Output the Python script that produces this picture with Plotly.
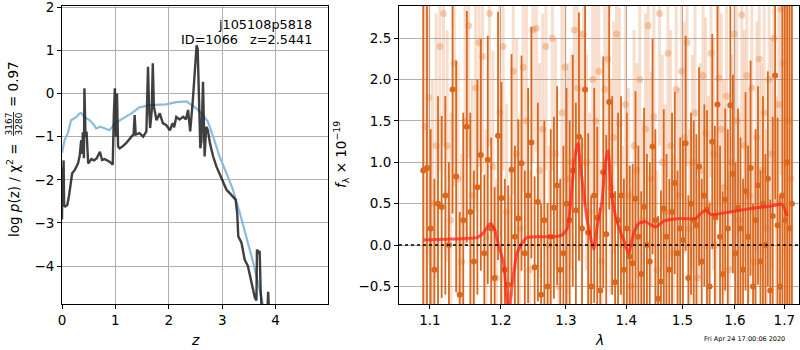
import plotly.graph_objects as go
import math

# ---------------- left panel: p(z) ----------------
pz_z = [0.0, 0.01, 0.02, 0.03, 0.04, 0.06, 0.1, 0.13, 0.19, 0.24, 0.3, 0.33, 0.36, 0.38, 0.39, 0.41,
        0.42, 0.44, 0.46, 0.49, 0.55, 0.6, 0.65, 0.71, 0.75, 0.8, 0.89, 0.95, 0.97, 0.99, 1.01, 1.03,
        1.05, 1.08, 1.14, 1.2, 1.3, 1.34, 1.36, 1.38, 1.45, 1.52, 1.58, 1.6, 1.61, 1.63, 1.65, 1.68,
        1.70, 1.72, 1.77, 1.83, 1.89, 1.95, 2.02, 2.07, 2.1, 2.14, 2.2, 2.27, 2.32, 2.36, 2.40, 2.45,
        2.48, 2.52, 2.54, 2.56, 2.59, 2.61, 2.64, 2.655, 2.67, 2.70, 2.73, 2.77, 2.83, 2.89, 2.95,
        3.02, 3.08, 3.14, 3.20, 3.25, 3.28, 3.30, 3.36, 3.42, 3.48, 3.55, 3.61, 3.64, 3.65, 3.68,
        3.70, 3.72, 3.75, 3.84, 3.86, 3.88]
pz_logp = [-2.92, -1.7, -2.3, -1.55, -2.6, -2.62, -2.58, -2.38, -1.85, -1.77, -1.62, -1.45, -1.08,
           -1.4, -0.9, -1.5, 0.12, -1.0, -0.88, -1.62, -1.52, -1.55, -1.5, -1.35, -1.54, -1.52, -1.58,
           -1.65, -0.5, 0.12, -1.0, 0.0, -1.23, -1.27, -1.22, -1.15, -1.0, -0.95, -0.5, -0.95, -0.92,
           -1.0, -0.88, -0.2, 0.62, -0.31, -0.8, -0.4, 0.7, -0.3, -0.62, -0.46, -0.69, -0.73, -0.85,
           -0.69, -0.78, -0.54, -0.6, -0.54, -0.6, -0.38, -0.88, -0.15, 0.4, 1.12, 1.04, -0.2, -1.27,
           -1.1, 0.27, -0.6, -1.46, -0.77, -0.85, -1.15, -1.46, -1.69, -1.85, -2.04, -2.23, -2.31,
           -2.38, -2.46, -2.77, -3.31, -3.46, -3.85, -4.0, -4.38, -4.73, -4.8, -3.62, -3.68, -3.65,
           -4.6, -5.2, -5.2, -4.6, -5.2]

chi_z = [0.0, 0.05, 0.11, 0.17, 0.22, 0.27, 0.33, 0.36, 0.42, 0.52, 0.58, 0.64, 0.72, 0.8, 0.89,
         0.99, 1.14, 1.3, 1.45, 1.64, 1.95, 2.14, 2.33, 2.42, 2.52, 2.64, 2.73, 2.83, 2.95, 3.08,
         3.20, 3.33, 3.45, 3.58, 3.70, 3.78]
chi_val = [-1.38, -1.08, -0.92, -0.62, -0.58, -0.54, -0.46, -0.45, -0.55, -0.62, -0.7, -0.81, -0.77,
           -0.8, -0.85, -0.69, -0.58, -0.46, -0.32, -0.27, -0.25, -0.2, -0.18, -0.27, -0.35, -0.5,
           -0.65, -1.0, -1.46, -1.85, -2.23, -2.77, -3.31, -3.92, -4.54, -5.0]

# ---------------- right panel: spectrum ----------------
dark_wave = [1.091, 1.096, 1.101, 1.106, 1.111, 1.116, 1.121, 1.126, 1.131, 1.136,
             1.141, 1.146, 1.151, 1.156, 1.161, 1.166, 1.171, 1.176, 1.181, 1.186,
             1.191, 1.196, 1.201, 1.206, 1.211, 1.216, 1.221, 1.226, 1.231, 1.236,
             1.241, 1.246, 1.251, 1.256, 1.261, 1.266, 1.271, 1.276, 1.281, 1.286,
             1.291, 1.296, 1.301, 1.306, 1.311, 1.316, 1.321, 1.326, 1.331, 1.336,
             1.341, 1.346, 1.351, 1.356, 1.361, 1.366, 1.371, 1.376, 1.381, 1.386,
             1.391, 1.396, 1.401, 1.406, 1.411, 1.416, 1.421, 1.426, 1.431, 1.436,
             1.441, 1.446, 1.451, 1.456, 1.461, 1.466, 1.471, 1.476, 1.481, 1.486,
             1.491, 1.496, 1.501, 1.506, 1.511, 1.516, 1.521, 1.526, 1.531, 1.536,
             1.541, 1.546, 1.551, 1.556, 1.561, 1.566, 1.571, 1.576, 1.581, 1.586,
             1.591, 1.596, 1.601, 1.606, 1.611, 1.616, 1.621, 1.626, 1.631, 1.636,
             1.641, 1.646, 1.651, 1.656, 1.661, 1.666, 1.671, 1.676, 1.681, 1.686,
             1.691, 1.696, 1.701, 1.706, 1.711, 1.716]
dark_flux = [0.9, 0.93, 0.2, -0.3, 0.5, 0.46, 0.6, 0.0, 1.88, 0.83,
             -0.6, 0.3, 1.43, 0.4, -0.2, 0.7, 1.09, -0.1, 1.03, 0.2,
             -0.4, 1.32, 0.57, -0.3, -0.48, 0.91, 0.1, 0.32, 0.99, -0.1,
             0.6, 1.24, -0.27, 0.52, -0.6, 0.3, -0.5, 0.1, 0.45, 0.72,
             -0.3, -0.1, 0.5, 0.3, 0.9, 0.42, 1.31, 0.2, 1.88, 0.15,
             -0.5, 0.6, 0.33, -0.55, 0.88, 0.13, 1.73, 0.6, -0.45, 0.3,
             0.6, -0.3, 0.2, -0.14, -0.22, 0.56, 0.1, -0.35, 0.46, 0.0,
             -0.2, 1.19, 0.3, -0.65, -0.44, 0.44, 0.1, -0.3, 0.4, 0.75,
             -0.1, 0.2, 0.06, 1.23, -0.4, 0.5, 0.3, 0.24, 0.95, -0.2,
             0.6, 0.43, -0.5, 1.25, 0.34, 1.7, 0.1, -0.35, 0.55, 0.2,
             1.69, 0.86, -0.1, 0.45, 0.2, -0.3, 0.65, 0.1, 0.93, -0.5,
             0.3, 0.72, -0.2, 0.5, 0.0, 0.8, -0.55, 0.35, 2.05, 0.24,
             -0.5, 0.6, 0.3, 1.0, 0.2, 0.5]
dark_err = [3.8, 3.2, 1.2, 1.1, 1.3, 1.1, 1.2, 1.0, 1.5, 1.4,
            1.0, 1.3, 1.4, 1.2, 1.1, 1.3, 1.4, 0.95, 1.5, 1.1,
            1.1, 1.5, 1.4, 1.1, 1.2, 1.4, 1.1, 1.2, 1.3, 1.0,
            1.3, 1.4, 1.1, 1.2, 1.1, 1.2, 1.0, 1.3, 1.1, 1.2,
            1.1, 1.3, 1.4, 1.2, 1.4, 1.3, 1.5, 1.1, 1.4, 1.2,
            1.1, 1.3, 1.1, 1.0, 1.4, 1.2, 1.3, 1.2, 1.1, 1.3,
            1.2, 1.1, 1.4, 1.1, 1.2, 1.3, 1.1, 1.0, 1.2, 1.1,
            1.2, 1.3, 1.1, 1.0, 1.1, 1.2, 1.0, 1.1, 1.2, 1.1,
            1.0, 1.1, 1.2, 1.3, 1.0, 1.1, 1.2, 1.1, 1.2, 1.0,
            1.1, 1.2, 1.0, 1.3, 1.1, 1.4, 1.1, 1.0, 1.1, 1.2,
            1.3, 1.2, 1.1, 1.2, 1.1, 1.1, 1.2, 1.1, 1.3, 1.0,
            1.1, 1.2, 1.1, 1.3, 1.1, 1.3, 1.1, 1.2, 1.5, 1.3,
            1.1, 2.3, 3.3, 3.8, 3.3, 3.8]

light_wave = [1.0935, 1.0985, 1.1035, 1.1085, 1.1135, 1.1185, 1.1235, 1.1285, 1.1335, 1.1385,
              1.1435, 1.1485, 1.1535, 1.1585, 1.1635, 1.1685, 1.1735, 1.1785, 1.1835, 1.1885,
              1.1935, 1.1985, 1.2035, 1.2085, 1.2135, 1.2185, 1.2235, 1.2285, 1.2335, 1.2385,
              1.2435, 1.2485, 1.2535, 1.2585, 1.2635, 1.2685, 1.2735, 1.2785, 1.2835, 1.2885,
              1.2935, 1.2985, 1.3035, 1.3085, 1.3135, 1.3185, 1.3235, 1.3285, 1.3335, 1.3385,
              1.3435, 1.3485, 1.3535, 1.3585, 1.3635, 1.3685, 1.3735, 1.3785, 1.3835, 1.3885,
              1.3935, 1.3985, 1.4035, 1.4085, 1.4135, 1.4185, 1.4235, 1.4285, 1.4335, 1.4385,
              1.4435, 1.4485, 1.4535, 1.4585, 1.4635, 1.4685, 1.4735, 1.4785, 1.4835, 1.4885,
              1.4935, 1.4985, 1.5035, 1.5085, 1.5135, 1.5185, 1.5235, 1.5285, 1.5335, 1.5385,
              1.5435, 1.5485, 1.5535, 1.5585, 1.5635, 1.5685, 1.5735, 1.5785, 1.5835, 1.5885,
              1.5935, 1.5985, 1.6035, 1.6085, 1.6135, 1.6185, 1.6235, 1.6285, 1.6335, 1.6385,
              1.6435, 1.6485, 1.6535, 1.6585, 1.6635, 1.6685, 1.6735, 1.6785, 1.6835, 1.6885,
              1.6935, 1.6985, 1.7035, 1.7085, 1.7135]
light_flux = [1.43, 1.78, 0.5, 1.2, 2.4, 2.8, 1.2, 0.3, 2.2, 0.8,
              -0.2, 1.5, 2.65, 0.6, 1.9, 2.45, 2.28, 0.1, 2.8, 0.95,
              -0.4, 1.6, 2.4, 0.4, -0.6, 2.1, 1.1, 0.2, 2.15, 1.5,
              -0.3, 2.6, 2.62, 0.9, 1.4, 2.4, 0.0, 2.5, 1.1, -0.5,
              1.6, 2.15, 0.8, 1.0, 2.6, 1.9, 1.2, 2.55, 1.0, 0.4,
              2.0, 1.5, 2.1, -0.2, 1.88, 2.25, 0.7, 1.3, 2.55, 1.47,
              0.0, 1.7, 0.6, -0.5, 1.2, 0.9, 2.0, 0.3, 1.4, 2.65,
              0.8, 1.55, -0.3, 2.8, 1.0, 0.4, 2.32, 1.2, -0.1, 1.88,
              0.6, 2.1, 1.3, 2.45, 0.2, 1.0, 1.6, -0.4, 0.9, 2.05,
              1.35, 0.5, 2.32, 1.1, 0.0, 2.02, 1.4, 0.7, 1.8, -0.3,
              1.0, 2.55, 1.5, 0.3, 2.78, 1.2, 2.05, 0.6, 1.9, -0.2,
              1.3, 2.25, 0.9, 1.6, 0.2, 2.0, 1.1, 2.5, 0.5, 1.7,
              2.85, 2.2, 1.0, 1.5, 0.8]
light_err = [3.0, 2.0, 1.5, 1.6, 1.5, 1.6, 1.4, 1.3, 1.5, 1.4,
             1.3, 1.5, 1.6, 1.4, 1.5, 1.5, 1.4, 1.3, 1.6, 1.4,
             1.2, 1.5, 1.5, 1.3, 1.2, 1.5, 1.4, 1.3, 1.5, 1.4,
             1.2, 1.6, 1.5, 1.3, 1.4, 1.5, 1.2, 1.6, 1.4, 1.2,
             1.5, 1.5, 1.4, 1.3, 1.5, 1.5, 1.4, 1.6, 1.3, 1.2,
             1.5, 1.4, 1.5, 1.2, 1.5, 1.5, 1.3, 1.4, 1.6, 1.4,
             1.2, 1.5, 1.3, 1.2, 1.4, 1.3, 1.5, 1.2, 1.4, 1.6,
             1.3, 1.4, 1.2, 1.6, 1.3, 1.3, 1.5, 1.4, 1.2, 1.5,
             1.3, 1.5, 1.4, 1.5, 1.2, 1.3, 1.4, 1.2, 1.3, 1.5,
             1.4, 1.3, 1.5, 1.4, 1.2, 1.5, 1.4, 1.3, 1.4, 1.2,
             1.3, 1.6, 1.4, 1.3, 1.6, 1.4, 1.5, 1.3, 1.5, 1.2,
             1.4, 1.5, 1.3, 1.4, 1.2, 1.5, 1.4, 1.5, 1.3, 1.5,
             2.0, 2.5, 3.0, 3.5, 3.5]

model_wave = [1.091, 1.12, 1.15, 1.1655, 1.175, 1.1846, 1.1905, 1.1967, 1.2041, 1.2116, 1.2166,
              1.2241, 1.2317, 1.2393, 1.26, 1.28, 1.2936, 1.3021, 1.3074, 1.3138, 1.3191, 1.3247,
              1.3345, 1.3451, 1.3508, 1.3590, 1.3645, 1.3690, 1.3757, 1.3842, 1.3955, 1.4042,
              1.4128, 1.4215, 1.4335, 1.4512, 1.4661, 1.4965, 1.5244, 1.5338, 1.5433, 1.5528,
              1.5913, 1.6309, 1.6711, 1.6954, 1.7059]
model_flux = [0.06, 0.07, 0.08, 0.09, 0.15, 0.26, 0.2, 0.0, -0.22, -0.85, -0.5,
              -0.1, 0.02, 0.09, 0.1, 0.1, 0.12, 0.2, 0.5, 1.03, 1.23, 0.87,
              0.3, -0.05, 0.22, 0.54, 1.0, 1.14, 0.58, 0.28, 0.06, -0.1,
              0.14, 0.26, 0.28, 0.22, 0.29, 0.32, 0.32, 0.38, 0.42, 0.37,
              0.40, 0.44, 0.47, 0.49, 0.35]

z_ticks = [0, 1, 2, 3, 4]
logp_ticks = [-4, -3, -2, -1, 0, 1, 2]
wave_ticks = [1.1, 1.2, 1.3, 1.4, 1.5, 1.6, 1.7]
flux_ticks = [-0.5, 0.0, 0.5, 1.0, 1.5, 2.0, 2.5]

ORANGE = "rgb(217,104,30)"
ORANGE_LIGHT_BAR = "rgba(228,125,55,0.25)"
ORANGE_LIGHT_PT = "rgba(228,125,55,0.35)"
FONT = "DejaVu Sans"

fig = go.Figure()

fig.add_trace(go.Scatter(x=chi_z, y=chi_val, mode="lines", xaxis="x", yaxis="y",
                         line=dict(color="rgb(140,187,220)", width=2.2), showlegend=False))
fig.add_trace(go.Scatter(x=pz_z, y=pz_logp, mode="lines", xaxis="x", yaxis="y",
                         line=dict(color="rgba(30,30,30,0.85)", width=2.4), showlegend=False))

fig.add_trace(go.Scatter(x=light_wave, y=light_flux, mode="markers", xaxis="x2", yaxis="y2",
                         marker=dict(color=ORANGE_LIGHT_PT, size=7),
                         error_y=dict(type="data", array=light_err, color=ORANGE_LIGHT_BAR,
                                      thickness=3, width=0),
                         showlegend=False))
fig.add_trace(go.Scatter(x=dark_wave, y=dark_flux, mode="markers", xaxis="x2", yaxis="y2",
                         marker=dict(color=ORANGE, size=6),
                         error_y=dict(type="data", array=dark_err, color=ORANGE,
                                      thickness=1.8, width=0),
                         showlegend=False))
fig.add_trace(go.Scatter(x=model_wave, y=model_flux, mode="lines", xaxis="x2", yaxis="y2",
                         line=dict(color="rgba(255,30,20,0.72)", width=3, shape="spline", smoothing=0.6),
                         showlegend=False))

fig.add_shape(type="line", xref="x2 domain", yref="y2", x0=0, x1=1, y0=0, y1=0,
              line=dict(color="black", width=1.6, dash="dot"), layer="above")

ydom = [1 - 304 / 350, 1 - 6 / 350]
axcommon = dict(showline=True, linecolor="black", linewidth=1, mirror=True,
                ticks="outside", ticklen=4, tickcolor="black", automargin=False,
                ticklabeloverflow="allow",
                showgrid=True, gridcolor="#b0b0b0", gridwidth=1, zeroline=False,
                tickfont=dict(family=FONT, size=13.5, color="black"))

lo = math.log10(1.059)
hi = math.log10(1.731)

fig.update_layout(
    width=800, height=350,
    margin=dict(l=0, r=0, t=0, b=0),
    paper_bgcolor="white", plot_bgcolor="white",
    font=dict(family=FONT, color="black"),
    xaxis=dict(domain=[62 / 800, 328 / 800], range=[0, 4.98], tickvals=z_ticks,
               anchor="y", **axcommon),
    yaxis=dict(domain=ydom, range=[-4.88, 2.03], tickvals=logp_ticks, anchor="x", **axcommon),
    xaxis2=dict(domain=[399 / 800, 799 / 800], type="log", range=[lo, hi],
                tickvals=wave_ticks, ticktext=["%.1f" % v for v in wave_ticks],
                anchor="y2", **axcommon),
    yaxis2=dict(domain=ydom, range=[-0.713, 2.89], tickvals=flux_ticks, tickformat=".1f",
                anchor="x2", **axcommon),
)

# stacked-fraction y label built from pieces
fig.add_shape(type="line", xref="paper", yref="paper",
              x0=13.5 / 800, x1=13.5 / 800, y0=1 - 136 / 350, y1=1 - 112 / 350,
              line=dict(color="black", width=0.8))

ann = [
    dict(text="j105108p5818", x=314 / 800, y=1 - 24 / 350, xanchor="right", yanchor="middle",
         font=dict(size=12.8, family=FONT)),
    dict(text="ID=1066&nbsp;&nbsp;&nbsp;z=2.5441", x=314 / 800, y=1 - 39 / 350, xanchor="right",
         yanchor="middle", font=dict(size=12.8, family=FONT)),
    dict(text="<i>z</i>", x=195 / 800, y=1 - 340 / 350, xanchor="center", yanchor="middle",
         font=dict(size=14, family=FONT)),
    dict(text="<i>λ</i>", x=599 / 800, y=1 - 340 / 350, xanchor="center", yanchor="middle",
         font=dict(size=14, family=FONT)),
    dict(text="log <i>p</i>(z) / χ<sup>2</sup> =",
         x=13 / 800, y=1 - 190 / 350, xanchor="center", yanchor="middle", textangle=-90,
         font=dict(size=13.5, family=FONT)),
    dict(text="3167", x=8.5 / 800, y=1 - 124 / 350, xanchor="center", yanchor="middle",
         textangle=-90, font=dict(size=9, family=FONT)),
    dict(text="3280", x=18.5 / 800, y=1 - 124 / 350, xanchor="center", yanchor="middle",
         textangle=-90, font=dict(size=9, family=FONT)),
    dict(text="= 0.97",
         x=13 / 800, y=1 - 84 / 350, xanchor="center", yanchor="middle", textangle=-90,
         font=dict(size=13.5, family=FONT)),
    dict(text="<i>f</i><sub>λ</sub> × 10<sup>−19</sup>",
         x=341 / 800, y=1 - 155 / 350, xanchor="center", yanchor="middle", textangle=-90,
         font=dict(size=13.5, family=FONT)),
    dict(text="Fri Apr 24 17:00:06 2020", x=744 / 800, y=1 - 339 / 350, xanchor="center",
         yanchor="middle", font=dict(size=6.5, family=FONT)),
]
for a in ann:
    a.update(xref="paper", yref="paper", showarrow=False)
fig.update_layout(annotations=ann)

fig.write_html("out.html", config={"displayModeBar": False},
               post_script="document.body.style.margin='0px';document.body.style.padding='0px';")
